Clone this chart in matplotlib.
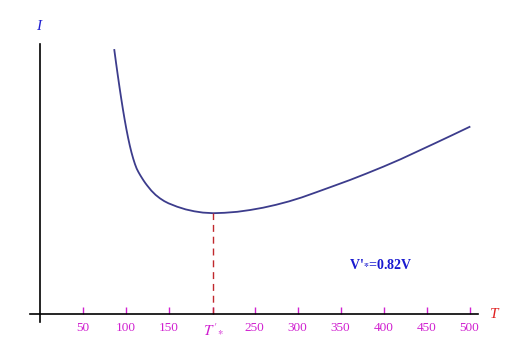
import matplotlib
matplotlib.use("Agg")
import matplotlib.pyplot as plt

# Data
T = [87, 89, 91, 93, 95, 97, 99, 101, 103, 105, 107, 109, 111, 113, 115, 117, 119, 121, 123, 125,
     130, 135, 140, 145, 150, 160, 170, 180, 190, 202,
     215, 230, 245, 260, 275, 290, 305, 322, 340, 361, 380, 400, 420, 440, 460, 480, 500]
I = [264, 251.2, 238.9, 227.0, 215.6, 204.7, 194.5, 185.0, 176.3, 168.4, 161.4, 155.3, 149.9, 145.4,
     142.0, 139.0, 136.2, 133.5, 131.0, 128.7,
     123.4, 119.1, 115.7, 112.9, 110.7, 107.3, 104.6, 102.7, 101.4, 100.8,
     101.2, 102.2, 104.0, 106.3, 109.2, 112.6, 116.6, 121.8, 127.4, 134.0, 140.4, 147.4, 154.8,
     162.8, 170.8, 178.9, 187.1]
T_star = 202
I_min = 100.8
tick_values = [50, 100, 150, T_star, 250, 300, 350, 400, 450, 500]
tick_labels = ["50", "100", "150", r"$T'_{*}$", "250", "300", "350", "400", "450", "500"]
annotation = r"V'$_{\mathbf{*}}$=0.82V"

plt.rcParams['mathtext.fontset'] = 'stix'
plt.rcParams['font.family'] = ['Liberation Serif', 'DejaVu Serif']

W, H = 522, 352
fig = plt.figure(figsize=(W / 100, H / 100), dpi=100)
ax = fig.add_axes([0, 0, 1, 1])
sx = 0.86
x0 = 39.5
y0 = 314
ax.set_xlim(-x0 / sx, (W - x0) / sx)
ax.set_ylim(y0 - H, y0)


def px(x):
    return (x - x0) / sx


def py(y):
    return y0 - y


ax.plot(T, I, color='#3c3c8c', lw=1.3, solid_joinstyle='round')
ax.plot([T_star, T_star], [0, I_min], color='#c0282d', lw=1.0, ls=(0, (5, 3.5)))

for s in ['top', 'right']:
    ax.spines[s].set_visible(False)
ax.spines['left'].set_position(('data', 0))
ax.spines['bottom'].set_position(('data', 0))
ax.spines['left'].set_bounds(py(322), py(44))
ax.spines['bottom'].set_bounds(px(30), px(478))
for s in ['left', 'bottom']:
    ax.spines[s].set_linewidth(1.2)
    ax.spines[s].set_color('black')

ax.set_yticks([])
ax.set_xticks(tick_values)
ax.set_xticklabels(tick_labels)
ax.tick_params(axis='x', direction='in', length=5, width=1, color='#d020d0',
               labelcolor='#d020d0', labelsize=9.5, pad=6)
ax.get_xticklabels()[3].set_fontsize(11)

ax.text(px(494), py(314), "T", color='#e02020', fontstyle='italic', fontsize=11,
        ha='center', va='center')
ax.text(px(39), py(27), "I", color='#2020d0', fontstyle='italic', fontsize=11,
        ha='center', va='center')
ax.text(px(381), py(264), annotation, color='#1a1ad0', fontsize=10,
        fontweight='bold', ha='center', va='center')

fig.savefig("out.png", dpi=100)
